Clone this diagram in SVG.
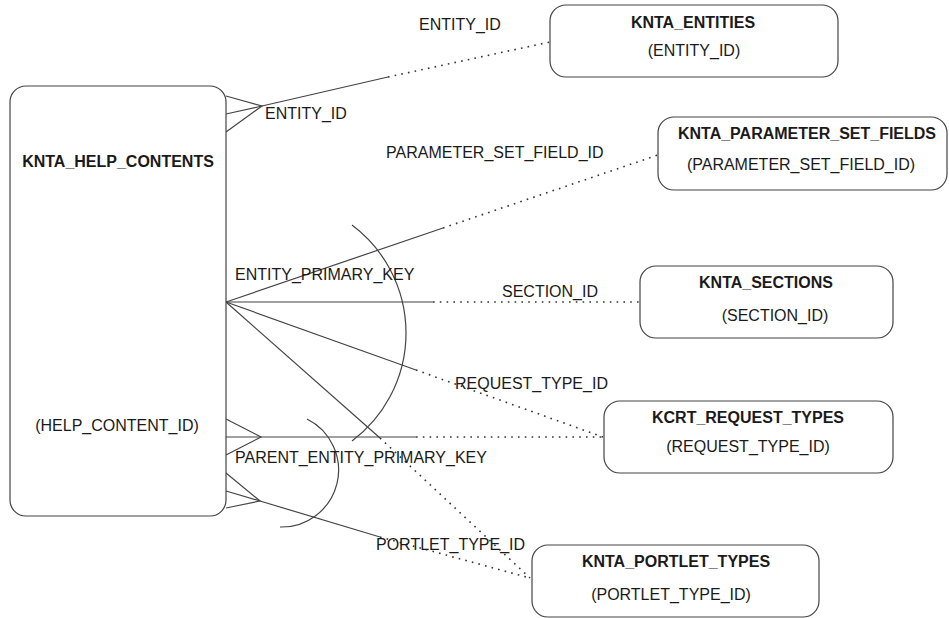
<svg xmlns="http://www.w3.org/2000/svg" width="949" height="618" viewBox="0 0 949 618">
<style>
.node{fill:#fff;stroke:#444;stroke-width:1.2}
.t{font-family:"Liberation Sans",Arial,sans-serif;font-size:16px;fill:#1a1a1a}
.b{font-weight:bold}
.m{text-anchor:middle}
.s{fill:none;stroke:#444;stroke-width:1.2}
.d{fill:none;stroke:#333;stroke-width:1.6;stroke-dasharray:1.6 5.2}
</style>
<rect width="949" height="618" fill="#fff"/>
<g id="connectors">
  <polyline class="s" points="226,96 262,106 226,132"/>
  <line class="s" x1="226" y1="114" x2="262" y2="106"/>
  <line class="s" x1="262" y1="106" x2="388" y2="77"/>
  <line class="d" x1="388" y1="77" x2="550" y2="42"/>
  <line class="s" x1="226" y1="302" x2="443" y2="228"/>
  <line class="d" x1="443" y1="228" x2="658" y2="155"/>
  <line class="s" x1="226" y1="302" x2="433" y2="302"/>
  <line class="d" x1="433" y1="302" x2="640" y2="302"/>
  <line class="s" x1="226" y1="302" x2="416" y2="370"/>
  <line class="d" x1="416" y1="370" x2="603" y2="437"/>
  <line class="s" x1="226" y1="302" x2="380" y2="438"/>
  <line class="d" x1="380" y1="438" x2="530" y2="578"/>
  <path class="s" d="M352,225 A135,135 0 0 1 352,441"/>
  <polyline class="s" points="226,419 261,437 226,455"/>
  <line class="s" x1="226" y1="437" x2="416" y2="437"/>
  <line class="d" x1="416" y1="437" x2="603" y2="437"/>
  <polyline class="s" points="226,473 260,501 226,508"/>
  <line class="s" x1="226" y1="491" x2="260" y2="501"/>
  <line class="s" x1="260" y1="501" x2="380" y2="537"/>
  <line class="d" x1="380" y1="537" x2="530" y2="578"/>
  <path class="s" d="M307,419 A57,57 0 0 1 280,527"/>
  <text class="t" x="419" y="30">ENTITY_ID</text>
  <text class="t" x="265" y="119">ENTITY_ID</text>
  <text class="t" x="386" y="158">PARAMETER_SET_FIELD_ID</text>
  <text class="t" x="235" y="280">ENTITY_PRIMARY_KEY</text>
  <text class="t" x="502" y="297">SECTION_ID</text>
  <text class="t" x="455" y="389">REQUEST_TYPE_ID</text>
  <text class="t" x="235" y="463">PARENT_ENTITY_PRIMARY_KEY</text>
  <text class="t" x="376" y="550">PORTLET_TYPE_ID</text>
</g>
<g id="knta_help_contents">
  <rect class="node" x="10" y="86" width="216" height="430" rx="16" ry="16"/>
  <text class="t b m" x="118" y="167">KNTA_HELP_CONTENTS</text>
  <text class="t m" x="117" y="431">(HELP_CONTENT_ID)</text>
</g>
<g id="knta_entities">
  <rect class="node" x="550" y="5" width="288" height="72" rx="16" ry="16"/>
  <text class="t b m" x="693" y="28">KNTA_ENTITIES</text>
  <text class="t m" x="694" y="56">(ENTITY_ID)</text>
</g>
<g id="knta_parameter_set_fields">
  <rect class="node" x="658" y="117" width="289" height="73" rx="16" ry="16"/>
  <text class="t b m" x="807" y="139">KNTA_PARAMETER_SET_FIELDS</text>
  <text class="t m" x="801" y="170">(PARAMETER_SET_FIELD_ID)</text>
</g>
<g id="knta_sections">
  <rect class="node" x="640" y="266" width="253" height="72" rx="16" ry="16"/>
  <text class="t b m" x="766" y="288">KNTA_SECTIONS</text>
  <text class="t m" x="775" y="321">(SECTION_ID)</text>
</g>
<g id="kcrt_request_types">
  <rect class="node" x="604" y="401" width="289" height="72" rx="16" ry="16"/>
  <text class="t b m" x="748" y="423">KCRT_REQUEST_TYPES</text>
  <text class="t m" x="748" y="452">(REQUEST_TYPE_ID)</text>
</g>
<g id="knta_portlet_types">
  <rect class="node" x="532" y="545" width="287" height="72" rx="16" ry="16"/>
  <text class="t b m" x="676" y="567">KNTA_PORTLET_TYPES</text>
  <text class="t m" x="671" y="600">(PORTLET_TYPE_ID)</text>
</g>
</svg>
